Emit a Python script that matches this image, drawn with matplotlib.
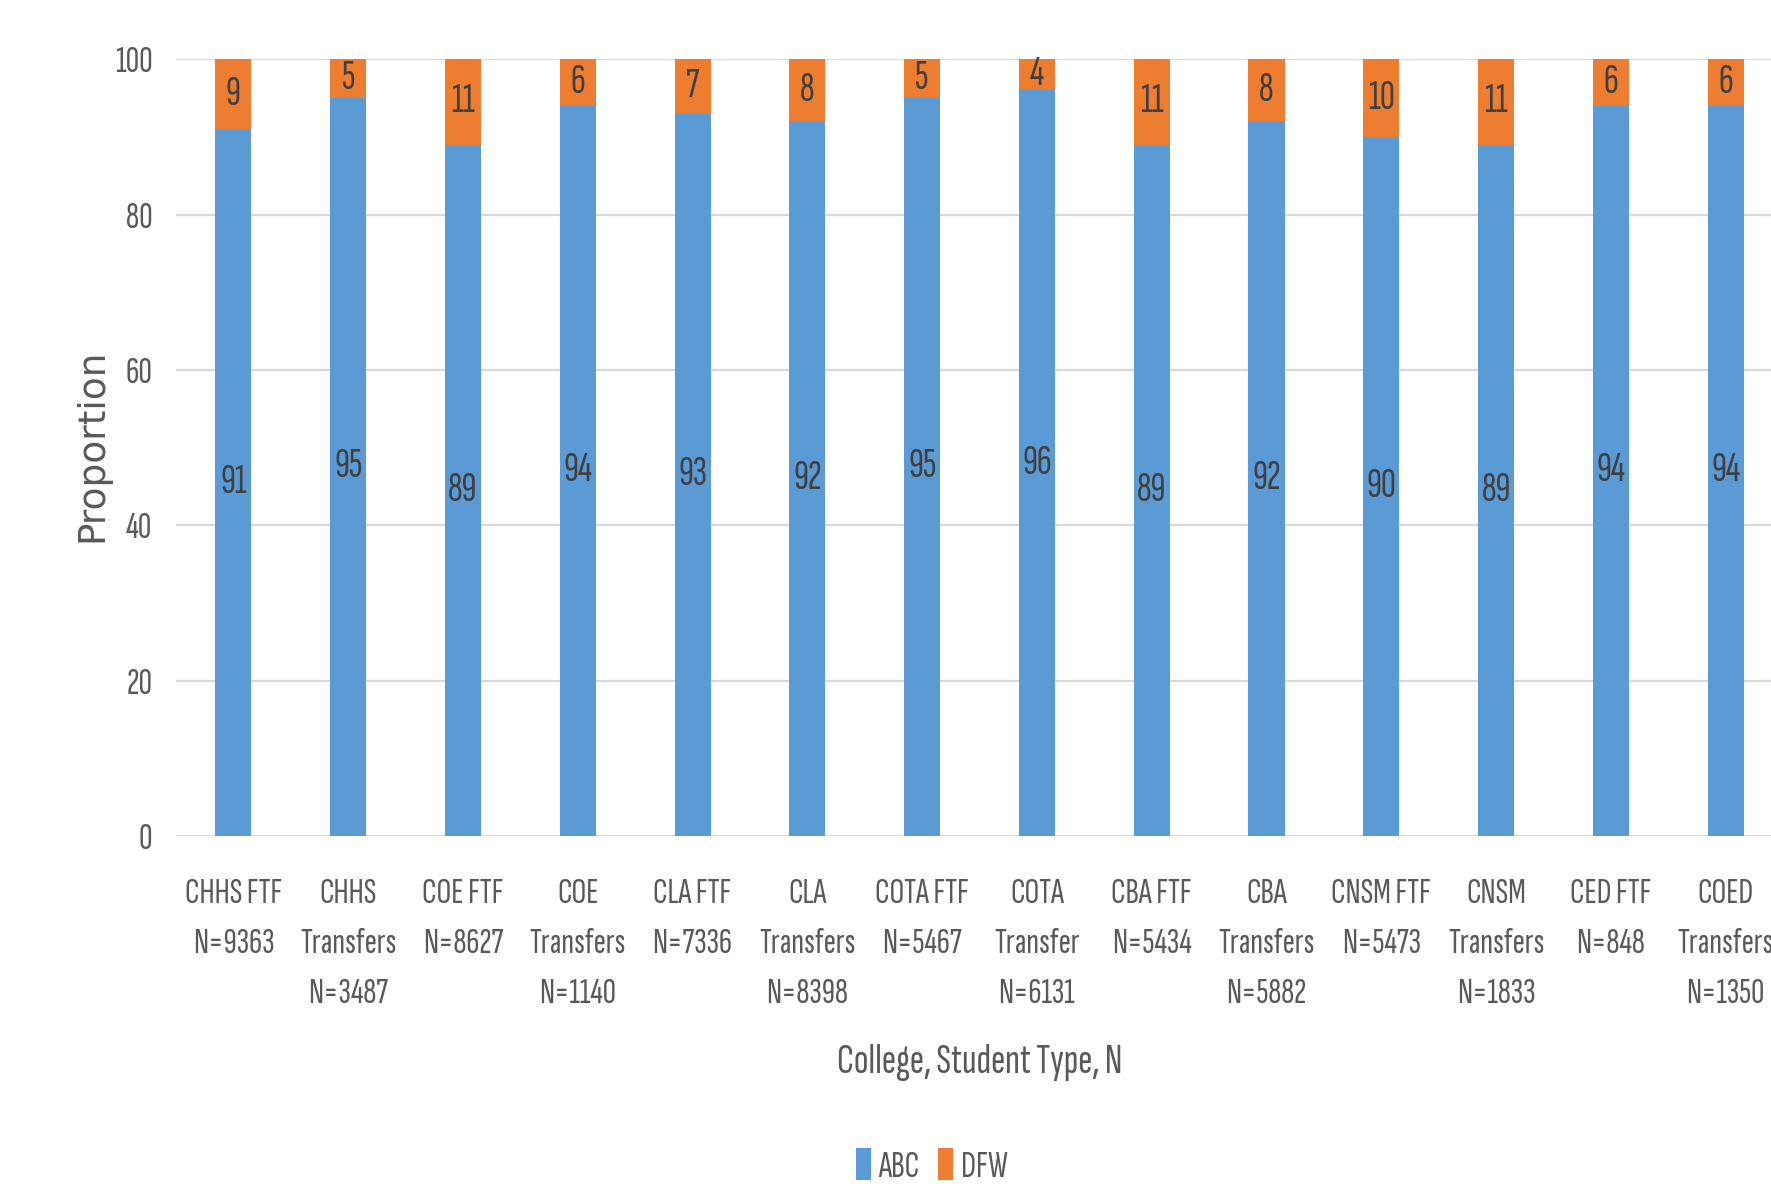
import matplotlib
matplotlib.use("Agg")
import matplotlib.pyplot as plt
from matplotlib import font_manager

labels = [
    "CHHS FTF\nN=9363", "CHHS\nTransfers\nN=3487",
    "COE FTF\nN=8627", "COE\nTransfers\nN=1140",
    "CLA FTF\nN=7336", "CLA\nTransfers\nN=8398",
    "COTA FTF\nN=5467", "COTA\nTransfer\nN=6131",
    "CBA FTF\nN=5434", "CBA\nTransfers\nN=5882",
    "CNSM FTF\nN=5473", "CNSM\nTransfers\nN=1833",
    "CED FTF\nN=848", "COED\nTransfers\nN=1350",
]
abc = [91, 95, 89, 94, 93, 92, 95, 96, 89, 92, 90, 89, 94, 94]
dfw = [9, 5, 11, 6, 7, 8, 5, 4, 11, 8, 10, 11, 6, 6]
yticks = [0, 20, 40, 60, 80, 100]

BLUE = "#5B9BD5"
ORANGE = "#ED7D31"
GRID = "#D9D9D9"
TXT = "#595959"
LBL = "#404040"

# narrow font to mimic the stretched Calibri of the original
names = {f.name for f in font_manager.fontManager.ttflist}
narrow = next((f for f in ["Sofia Sans Extra Condensed", "Fira Sans Extra Condensed",
                           "Archivo Narrow", "Liberation Sans Narrow"] if f in names),
              "DejaVu Sans")
plt.rcParams["font.family"] = [narrow, "DejaVu Sans"]

fig = plt.figure(figsize=(17.71, 11.84), dpi=100)
ax = fig.add_axes([0.0994, 0.294, 0.9074, 0.656])

x = list(range(len(labels)))
w = 0.314
ax.bar(x, abc, width=w, color=BLUE, label="ABC", zorder=3)
ax.bar(x, dfw, width=w, bottom=abc, color=ORANGE, label="DFW", zorder=3)

for i in x:
    ax.text(i, abc[i] / 2, str(abc[i]), ha="center", va="center",
            fontsize=30, color=LBL, zorder=4)
    ax.text(i, abc[i] + dfw[i] / 2, str(dfw[i]), ha="center", va="center",
            fontsize=30, color=LBL, zorder=4)

ax.set_xlim(-0.5, len(labels) - 0.5)
ax.set_ylim(0, 100)
ax.set_yticks(yticks)
ax.set_yticklabels([str(v) for v in yticks], fontsize=27, color=TXT)
ax.set_xticks(x)
ax.set_xticklabels(labels, fontsize=26.5, color=TXT, linespacing=1.72)
ax.tick_params(axis="both", length=0)
ax.tick_params(axis="y", pad=17)
ax.tick_params(axis="x", pad=30)
ax.grid(axis="y", color=GRID, linewidth=1.6, zorder=0)
for s in ax.spines.values():
    s.set_visible(False)

fig.text(0.052, 0.624, "Proportion", rotation=90, ha="center", va="center",
         fontsize=27, color=TXT, family="DejaVu Sans")
fig.text(0.553, 0.103, "College, Student Type, N", ha="center", va="center",
         fontsize=31, color=TXT)

leg = fig.legend(loc="center", bbox_to_anchor=(0.526, 0.015), ncol=2,
                 frameon=False, fontsize=27, handlelength=0.4,
                 handleheight=0.9, handletextpad=0.2, columnspacing=0.5)
for t in leg.get_texts():
    t.set_color(TXT)

fig.savefig("out.png", dpi=100)
